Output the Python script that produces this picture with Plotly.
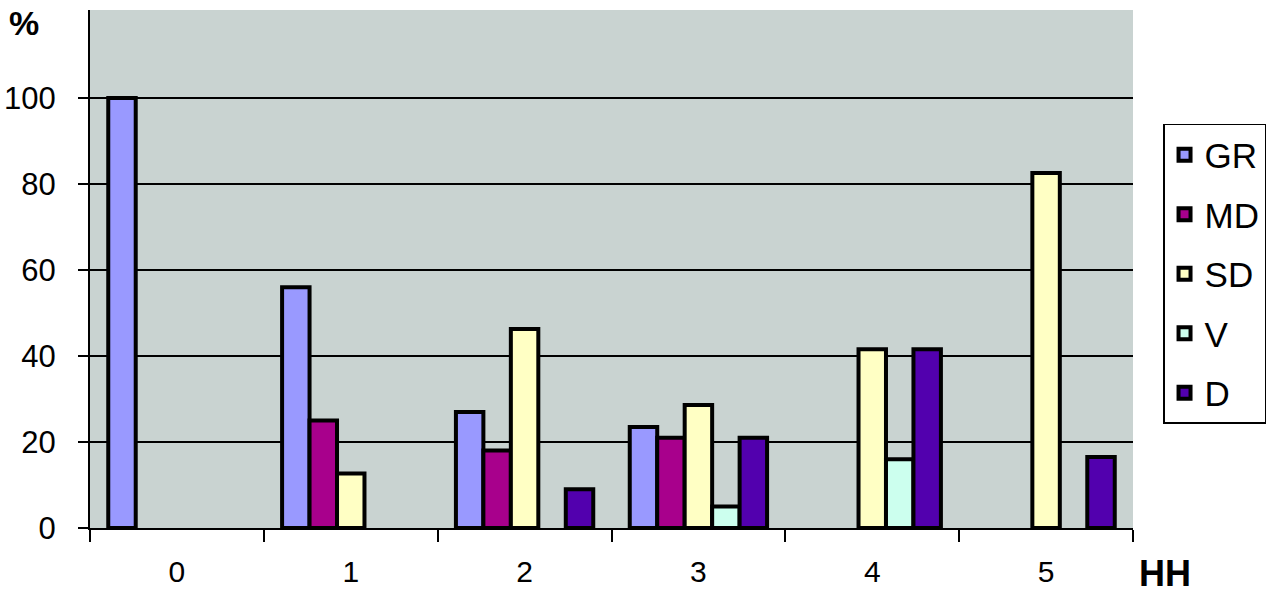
import plotly.graph_objects as go

categories = ["0", "1", "2", "3", "4", "5"]
series_names = ["GR", "MD", "SD", "V", "D"]
gr = [100, 56, 27, 23.5, None, None]
md = [None, 25, 18, 21, None, None]
sd = [None, 12.7, 46.3, 28.6, 41.6, 82.6]
v = [None, None, None, 5, 16, None]
d = [None, None, 9, 21, 41.6, 16.5]
colors = ["#9999FF", "#A8008C", "#FFFFC4", "#CCFFEE", "#5200AE"]
y_ticks = [0, 20, 40, 60, 80, 100]

FONT = "Liberation Sans, Arial, sans-serif"

fig = go.Figure()
for name, vals, col in zip(series_names, [gr, md, sd, v, d], colors):
    fig.add_trace(go.Bar(
        x=categories, y=vals, name=name, legendgroup=name,
        marker=dict(color=col, line=dict(color="black", width=4)),
    ))

fig.update_layout(
    width=1280, height=595,
    margin=dict(l=90, r=147, t=10, b=67, autoexpand=False),
    paper_bgcolor="white",
    plot_bgcolor="#C9D3D1",
    barmode="group",
    bargap=0.21,
    bargroupgap=0,
    font=dict(family=FONT, size=30, color="black"),
    showlegend=True,
    legend=dict(
        x=1.0288, y=0.78, xanchor="left", yanchor="top",
        bgcolor="white", bordercolor="black", borderwidth=1.5,
        font=dict(family=FONT, size=35, color="black"),
        traceorder="grouped", tracegroupgap=11,
        itemwidth=30,
    ),
    xaxis=dict(
        type="category", range=[-0.5, 5.5], automargin=False,
        showline=True, linecolor="black", linewidth=2,
        ticks="outside", tickson="boundaries", ticklen=12, tickwidth=2, tickcolor="black",
        ticklabelstandoff=16,
        showgrid=False,
        tickfont=dict(family=FONT, size=30),
    ),
    yaxis=dict(
        range=[0, 120.5], tickvals=y_ticks, automargin=False,
        showline=True, linecolor="black", linewidth=2,
        ticks="outside", ticklen=10, tickwidth=2, tickcolor="black",
        ticklabelstandoff=16,
        showgrid=True, gridcolor="black", gridwidth=1.5,
        zeroline=False,
        tickfont=dict(family=FONT, size=31),
    ),
    annotations=[
        dict(text="<b>%</b>", xref="paper", yref="paper", x=-0.08, y=1.015,
             xanchor="left", yanchor="top", showarrow=False,
             font=dict(family=FONT, size=34)),
        dict(text="<b>HH</b>", xref="paper", yref="paper", x=1.004, y=-0.045,
             xanchor="left", yanchor="top", showarrow=False,
             font=dict(family=FONT, size=36)),
    ],
)

fig.write_html("out.html", config={"displayModeBar": False},
               post_script="document.body.style.margin='0';")
